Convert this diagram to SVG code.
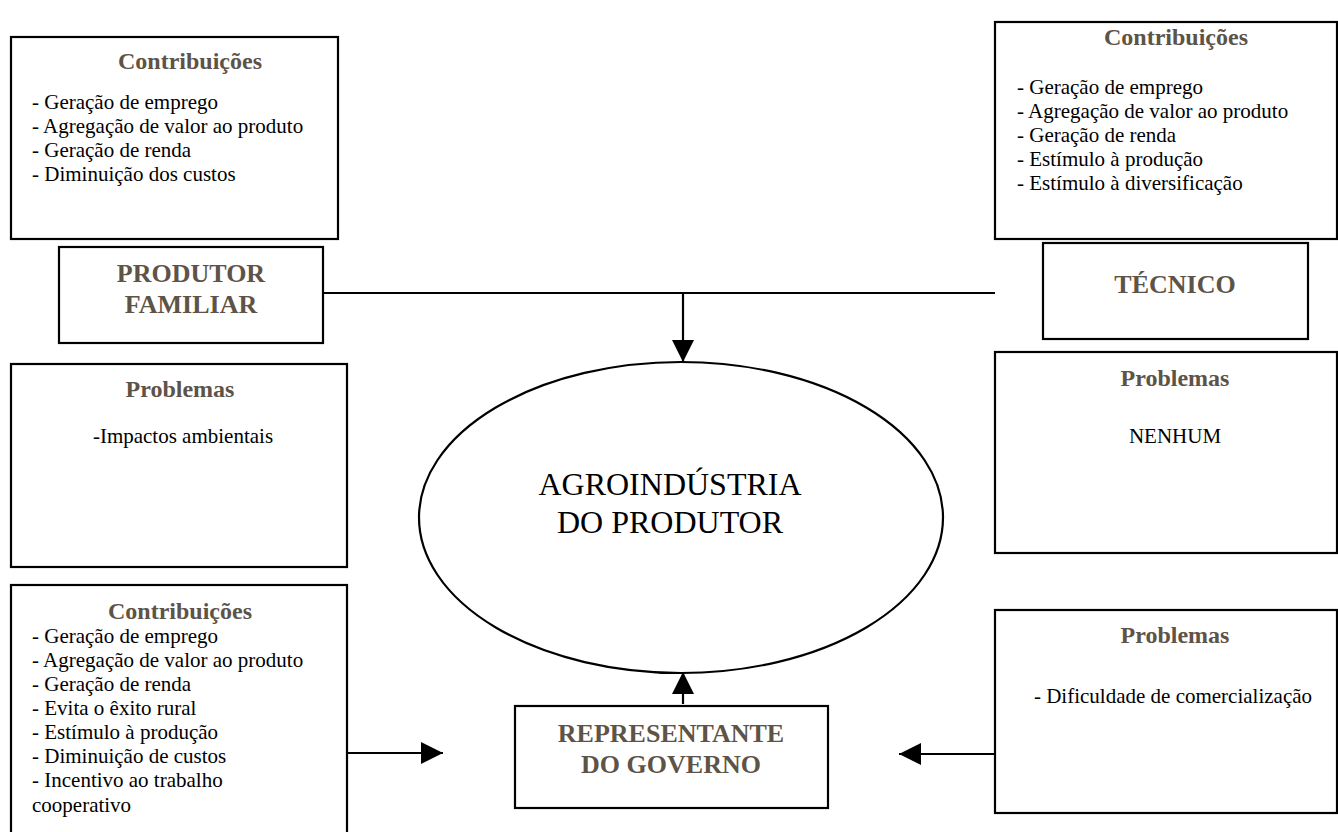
<svg xmlns="http://www.w3.org/2000/svg" width="1338" height="832" viewBox="0 0 1338 832">
<style>
text{font-family:'Liberation Serif','Times New Roman',Times,'DejaVu Serif',serif}
.box{fill:#fff;stroke:#000;stroke-width:2.2}
.t{font-size:21px;fill:#000}
.h{font-size:24px;font-weight:bold;fill:#5e5347;text-anchor:middle}
.lbl{font-size:26px;font-weight:bold;fill:#5e5347;text-anchor:middle}
.c{text-anchor:middle}
.ln{fill:none;stroke:#000;stroke-width:2.2}
</style>
<defs>
<marker id="ah" markerUnits="userSpaceOnUse" markerWidth="22" markerHeight="22" refX="22" refY="11" orient="auto">
<path d="M0,0 L22,11 L0,22 z" fill="#000"/>
</marker>
</defs>
<rect width="1338" height="832" fill="#fff"/>

<g id="produtor-contrib" font-family="Liberation Serif, serif">
<rect class="box" x="11" y="37" width="327" height="202"/>
<text class="h" x="190" y="69">Contribuições</text>
<text class="t" x="32" y="109">- Geração de emprego</text>
<text class="t" x="32" y="133">- Agregação de valor ao produto</text>
<text class="t" x="32" y="157">- Geração de renda</text>
<text class="t" x="32" y="181">- Diminuição dos custos</text>
</g>

<g id="tecnico-contrib">
<rect class="box" x="995" y="22" width="342" height="217"/>
<text class="h" x="1176" y="45">Contribuições</text>
<text class="t" x="1017" y="94">- Geração de emprego</text>
<text class="t" x="1017" y="118">- Agregação de valor ao produto</text>
<text class="t" x="1017" y="142">- Geração de renda</text>
<text class="t" x="1017" y="166">- Estímulo à produção</text>
<text class="t" x="1017" y="190">- Estímulo à diversificação</text>
</g>

<g id="produtor">
<rect class="box" x="59" y="247" width="264" height="96"/>
<text class="lbl" x="191" y="282">PRODUTOR</text>
<text class="lbl" x="191" y="313">FAMILIAR</text>
</g>

<g id="tecnico">
<rect class="box" x="1043" y="243" width="265" height="96"/>
<text class="lbl" x="1175" y="293">TÉCNICO</text>
</g>

<g id="produtor-problemas">
<rect class="box" x="11" y="364" width="336" height="203"/>
<text class="h" x="180" y="397">Problemas</text>
<text class="t c" x="183" y="443">-Impactos ambientais</text>
</g>

<g id="tecnico-problemas">
<rect class="box" x="995" y="352" width="342" height="201"/>
<text class="h" x="1175" y="386">Problemas</text>
<text class="t c" x="1175" y="443">NENHUM</text>
</g>

<g id="agroindustria">
<ellipse class="box" cx="681" cy="517.5" rx="262" ry="155.5"/>
<text class="t c" style="font-size:32px" x="670" y="495">AGROINDÚSTRIA</text>
<text class="t c" style="font-size:32px" x="670" y="533">DO PRODUTOR</text>
</g>

<g id="governo-contrib">
<rect class="box" x="11" y="585" width="336" height="260"/>
<text class="h" x="180" y="619">Contribuições</text>
<text class="t" x="32" y="643">- Geração de emprego</text>
<text class="t" x="32" y="667">- Agregação de valor ao produto</text>
<text class="t" x="32" y="691">- Geração de renda</text>
<text class="t" x="32" y="715">- Evita o êxito rural</text>
<text class="t" x="32" y="739">- Estímulo à produção</text>
<text class="t" x="32" y="763">- Diminuição de custos</text>
<text class="t" x="32" y="787">- Incentivo ao trabalho</text>
<text class="t" x="32" y="812">cooperativo</text>
</g>

<g id="governo">
<rect class="box" x="515" y="706" width="313" height="102"/>
<text class="lbl" x="671" y="742">REPRESENTANTE</text>
<text class="lbl" x="671" y="773">DO GOVERNO</text>
</g>

<g id="governo-problemas">
<rect class="box" x="995" y="610" width="342" height="203"/>
<text class="h" x="1175" y="643">Problemas</text>
<text class="t c" x="1173" y="703">- Dificuldade de comercialização</text>
</g>

<g id="connectors">
<path class="ln" d="M323,293 H995"/>
<path class="ln" d="M683,292 V362" marker-end="url(#ah)"/>
<path class="ln" d="M347,753 H443" marker-end="url(#ah)"/>
<path class="ln" d="M995,754 H899" marker-end="url(#ah)"/>
<path class="ln" d="M683,704 V672" marker-end="url(#ah)"/>
</g>
</svg>
